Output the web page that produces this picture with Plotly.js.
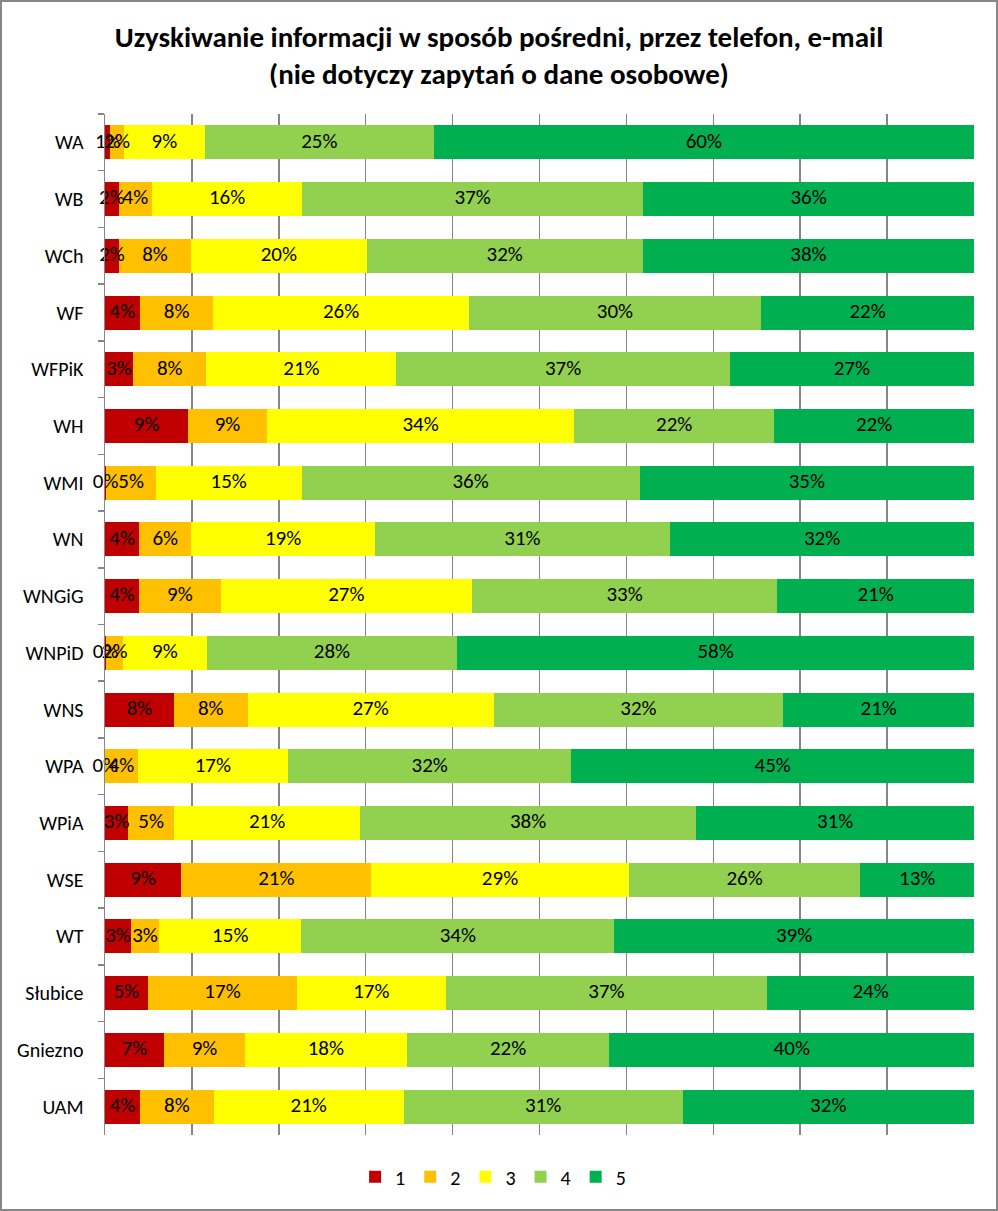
<!DOCTYPE html>
<html>
<head>
<meta charset="utf-8">
<script src="https://cdn.plot.ly/plotly-3.0.1.min.js"></script>
<style>
  html, body { margin: 0; padding: 0; background: #ffffff; }
  #wrap { position: relative; width: 998px; height: 1211px; }
  #chart { width: 998px; height: 1211px; }
  #frame { position: absolute; left: 0; top: 0; width: 998px; height: 1211px; box-sizing: border-box; border: 2px solid #878787; pointer-events: none; }
</style>
</head>
<body>
<div id="wrap"><div id="chart"></div><div id="frame"></div></div>
<script>
// Categories (top to bottom)
const categories = ["WA","WB","WCh","WF","WFPiK","WH","WMI","WN","WNGiG","WNPiD","WNS","WPA","WPiA","WSE","WT","Słubice","Gniezno","UAM"];

// Share of answers (%) for ratings 1..5
const rating1 = [0.6, 1.5, 1.6, 3.6, 3.1, 9.2, 0.14, 3.6, 3.68, 0.15, 7.6, 0.05, 2.6, 8.6, 2.81, 4.95, 6.5, 3.87];
const rating2 = [1.5, 3.6, 8.3, 7.6, 8.1, 8.7, 5.2, 5.5, 8.83, 1.87, 8.1, 3.6, 5.14, 21.4, 3.03, 17.15, 8.9, 8.13];
const rating3 = [9.0, 16.3, 20.2, 26.4, 21.0, 34.0, 15.3, 19.3, 27.2, 9.39, 27.1, 16.8, 20.8, 29.0, 15.4, 17.1, 17.8, 21.0];
const rating4 = [25.4, 37.0, 31.8, 30.2, 36.8, 22.1, 35.5, 31.1, 33.0, 28.1, 31.9, 31.7, 37.6, 26.1, 33.8, 37.0, 22.3, 30.8];
const rating5 = [60.0, 35.9, 38.1, 22.0, 27.0, 22.1, 35.1, 32.0, 21.3, 58.0, 21.0, 45.0, 31.1, 12.8, 38.9, 23.8, 40.1, 32.2];

const seriesNames = ["1","2","3","4","5"];
const seriesColors = ["#C00000","#FFC000","#FFFF00","#92D050","#00B050"];
const seriesValues = [rating1, rating2, rating3, rating4, rating5];

const FONT = "Carlito, 'Liberation Sans', Arial, sans-serif";

// Bars (100% stacked via barnorm)
const barTraces = seriesValues.map((vals, i) => ({
  type: "bar",
  orientation: "h",
  name: seriesNames[i],
  y: categories,
  x: vals,
  marker: { color: seriesColors[i], line: { width: 0 } },
  hoverinfo: "name+x"
}));

// Data labels drawn on top of all bars, centred on each normalised segment
const totals = categories.map((_, r) => seriesValues.reduce((s, vals) => s + vals[r], 0));
const labelTraces = seriesValues.map((vals, i) => ({
  type: "scatter",
  mode: "text",
  showlegend: false,
  hoverinfo: "skip",
  cliponaxis: false,
  y: categories,
  x: vals.map((v, r) => {
    let before = 0;
    for (let k = 0; k < i; k++) before += seriesValues[k][r];
    return (before + v / 2) / totals[r] * 100;
  }),
  text: vals.map(v => Math.round(v) + "%"),
  textposition: "middle center",
  textfont: { family: FONT, size: 21, color: "#000000" }
}));

const layout = {
  width: 998,
  height: 1211,
  margin: { l: 105, r: 24, t: 114, b: 76, autoexpand: false },
  paper_bgcolor: "#ffffff",
  plot_bgcolor: "#ffffff",
  barmode: "stack",
  barnorm: "percent",
  bargap: 0.4,
  font: { family: FONT, size: 20, color: "#000000" },
  title: {
    text: "<b>Uzyskiwanie informacji w sposób pośredni, przez telefon, e-mail<br>(nie dotyczy zapytań o dane osobowe)</b>",
    font: { family: FONT, size: 29, color: "#000000" },
    x: 0.5,
    xanchor: "center",
    xref: "container",
    yref: "container",
    y: 0.9615,
    yanchor: "middle"
  },
  xaxis: {
    range: [0, 100],
    dtick: 10,
    tick0: 0,
    showgrid: true,
    gridcolor: "#868686",
    gridwidth: 1.5,
    showticklabels: false,
    ticks: "",
    showline: false,
    zeroline: false,
    fixedrange: true
  },
  yaxis: {
    type: "category",
    categoryorder: "array",
    categoryarray: categories,
    range: [categories.length - 0.5, -0.5],
    autorange: false,
    showline: true,
    linecolor: "#868686",
    linewidth: 1.5,
    ticks: "outside",
    tickson: "boundaries",
    ticklen: 6,
    tickcolor: "#868686",
    tickwidth: 1.5,
    showgrid: false,
    ticklabelstandoff: 16,
    automargin: false,
    tickfont: { family: FONT, size: 20, color: "#000000" },
    fixedrange: true
  },
  showlegend: true,
  legend: {
    orientation: "h",
    xref: "paper",
    x: 0.4466,
    xanchor: "center",
    yref: "paper",
    y: -0.041,
    yanchor: "middle",
    traceorder: "normal",
    font: { family: FONT, size: 20, color: "#000000" },
    itemwidth: 30
  }
};

Plotly.newPlot("chart", barTraces.concat(labelTraces), layout, { displayModeBar: false, staticPlot: true });
</script>
</body>
</html>
